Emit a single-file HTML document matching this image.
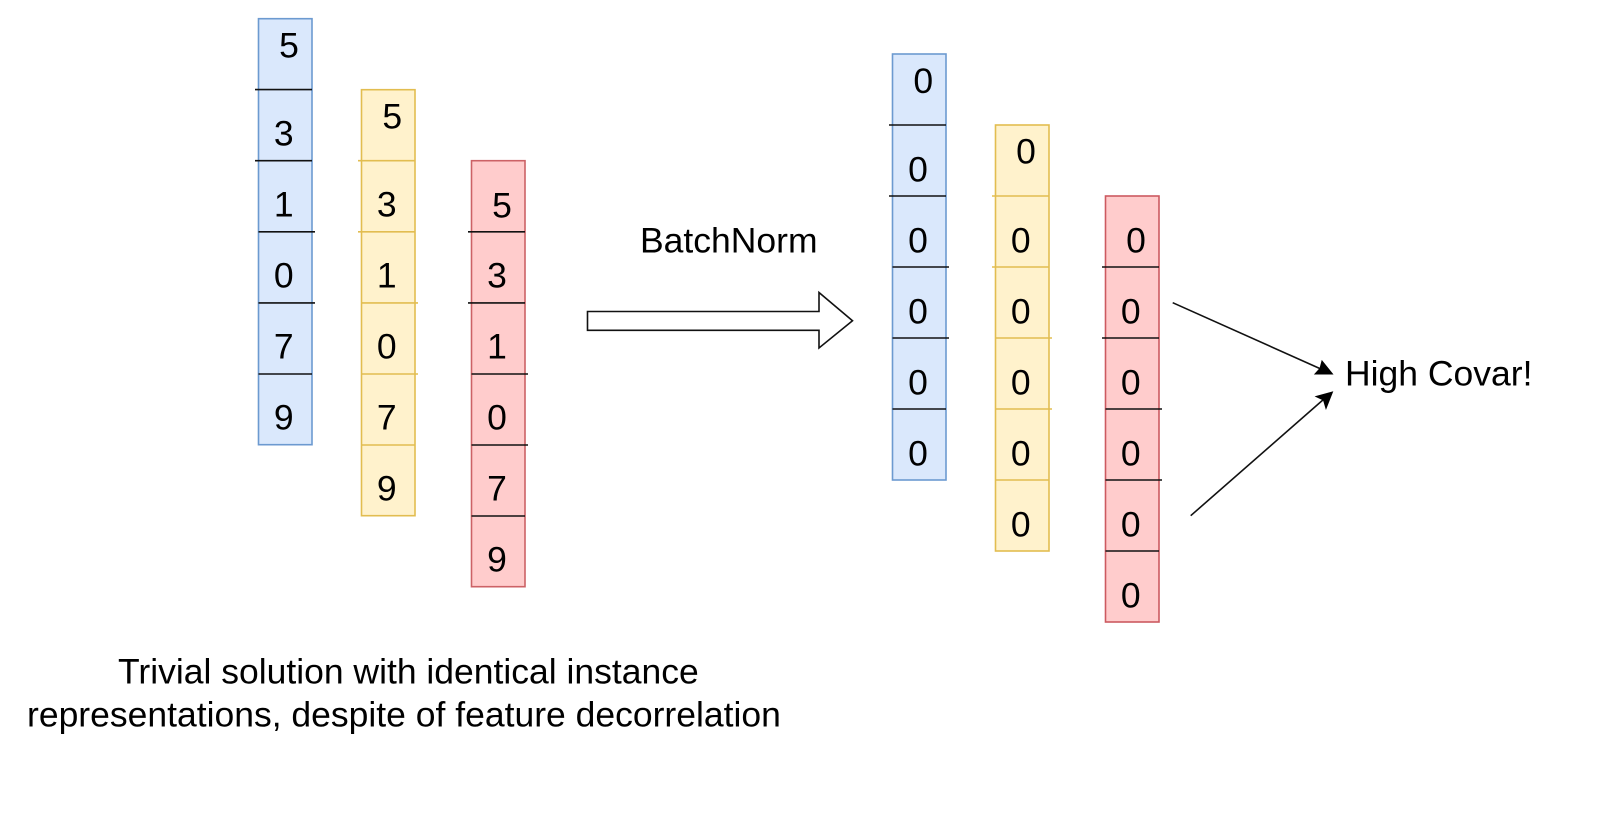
<!DOCTYPE html>
<html>
<head>
<meta charset="utf-8">
<style>
html,body{margin:0;padding:0;background:#fff;width:1600px;height:819px;overflow:hidden}
svg{display:block}
text{font-family:"Liberation Sans",sans-serif;font-size:35.5px;fill:#000}
.d{text-anchor:middle}
</style>
</head>
<body>
<svg width="1600" height="819" viewBox="0 0 1600 819" xmlns="http://www.w3.org/2000/svg">
<rect width="1600" height="819" fill="#fff"/>

<!-- left columns -->
<rect x="258.5" y="18.7" width="53.5" height="426" fill="#dae8fc" stroke="#6c9ad0" stroke-width="1.6"/>
<rect x="361.5" y="89.7" width="53.5" height="426" fill="#fff2cc" stroke="#e2bd50" stroke-width="1.6"/>
<rect x="471.5" y="160.7" width="53.5" height="426" fill="#ffcccc" stroke="#cc6266" stroke-width="1.6"/>

<g stroke="#111" stroke-width="1.6" fill="none">
<path d="M255 89.6H312M255 160.7H312M258.5 231.8H315M258.5 302.9H315M258.5 374H312"/>
<path d="M468 231.8H525M468 302.9H525M471.5 374H528M471.5 445H528M471.5 516H525"/>
</g>
<path d="M358 160.7H415M358 231.8H415M361.5 302.9H418M361.5 374H418M361.5 445H415" stroke="#e2bd50" stroke-width="1.6" fill="none"/>

<!-- right columns -->
<rect x="892.5" y="54" width="53.5" height="426" fill="#dae8fc" stroke="#6c9ad0" stroke-width="1.6"/>
<rect x="995.5" y="125" width="53.5" height="426" fill="#fff2cc" stroke="#e2bd50" stroke-width="1.6"/>
<rect x="1105.5" y="196" width="53.5" height="426" fill="#ffcccc" stroke="#cc5a60" stroke-width="1.6"/>

<g stroke="#111" stroke-width="1.6" fill="none">
<path d="M889 125H946M889 196H946M892.5 267H949M892.5 338H949M892.5 409H946"/>
<path d="M1102 267H1159M1102 338H1159M1105.5 409H1162M1105.5 480H1162M1105.5 551H1159"/>
</g>
<path d="M992 196H1049M992 267H1049M995.5 338H1052M995.5 409H1052M995.5 480H1049" stroke="#e2bd50" stroke-width="1.6" fill="none"/>

<!-- left digits -->
<g>
<text class="d" x="289" y="57.5">5</text>
<text class="d" x="283.7" y="145.7">3</text>
<text class="d" x="283.7" y="216.7">1</text>
<text class="d" x="283.7" y="287.7">0</text>
<text class="d" x="283.7" y="358.7">7</text>
<text class="d" x="283.7" y="429.7">9</text>

<text class="d" x="392.3" y="128.5">5</text>
<text class="d" x="386.7" y="216.7">3</text>
<text class="d" x="386.7" y="287.7">1</text>
<text class="d" x="386.7" y="358.7">0</text>
<text class="d" x="386.7" y="429.7">7</text>
<text class="d" x="386.7" y="500.7">9</text>

<text class="d" x="502" y="217.5">5</text>
<text class="d" x="497" y="287.7">3</text>
<text class="d" x="497" y="358.7">1</text>
<text class="d" x="497" y="429.7">0</text>
<text class="d" x="497" y="500.7">7</text>
<text class="d" x="497" y="571.7">9</text>

<!-- right digits -->
<text class="d" x="923.3" y="92.8">0</text>
<text class="d" x="918" y="181.5">0</text>
<text class="d" x="918" y="252.5">0</text>
<text class="d" x="918" y="323.5">0</text>
<text class="d" x="918" y="394.5">0</text>
<text class="d" x="918" y="465.5">0</text>

<text class="d" x="1026" y="163.5">0</text>
<text class="d" x="1020.7" y="252.5">0</text>
<text class="d" x="1020.7" y="323.5">0</text>
<text class="d" x="1020.7" y="394.5">0</text>
<text class="d" x="1020.7" y="465.5">0</text>
<text class="d" x="1020.7" y="536.5">0</text>

<text class="d" x="1136" y="252.5">0</text>
<text class="d" x="1130.7" y="323.5">0</text>
<text class="d" x="1130.7" y="394.5">0</text>
<text class="d" x="1130.7" y="465.5">0</text>
<text class="d" x="1130.7" y="536.5">0</text>
<text class="d" x="1130.7" y="607.5">0</text>
</g>

<!-- block arrow -->
<path d="M587.5 311.5H819V292.5L852.5 320.8L819 348V330.3H587.5Z" fill="#fff" stroke="#111" stroke-width="1.6"/>

<!-- connectors -->
<path d="M1172.7 302.7L1322 369.5" stroke="#111" stroke-width="1.6" fill="none"/>
<path d="M1332.5 374L1315 374L1320 368.5L1322 361Z" fill="#000" stroke="#000" stroke-width="1"/>
<path d="M1190.7 515.7L1324 399" stroke="#111" stroke-width="1.6" fill="none"/>
<path d="M1332.5 392L1326 408.5L1323.5 400L1316 396.5Z" fill="#000" stroke="#000" stroke-width="1"/>

<!-- labels -->
<text x="640" y="252.5">BatchNorm</text>
<text x="1345" y="385.5">High Covar!</text>
<text x="118" y="683.5">Trivial solution with identical instance</text>
<text x="27" y="726.5">representations, despite of feature decorrelation</text>
</svg>
</body>
</html>
